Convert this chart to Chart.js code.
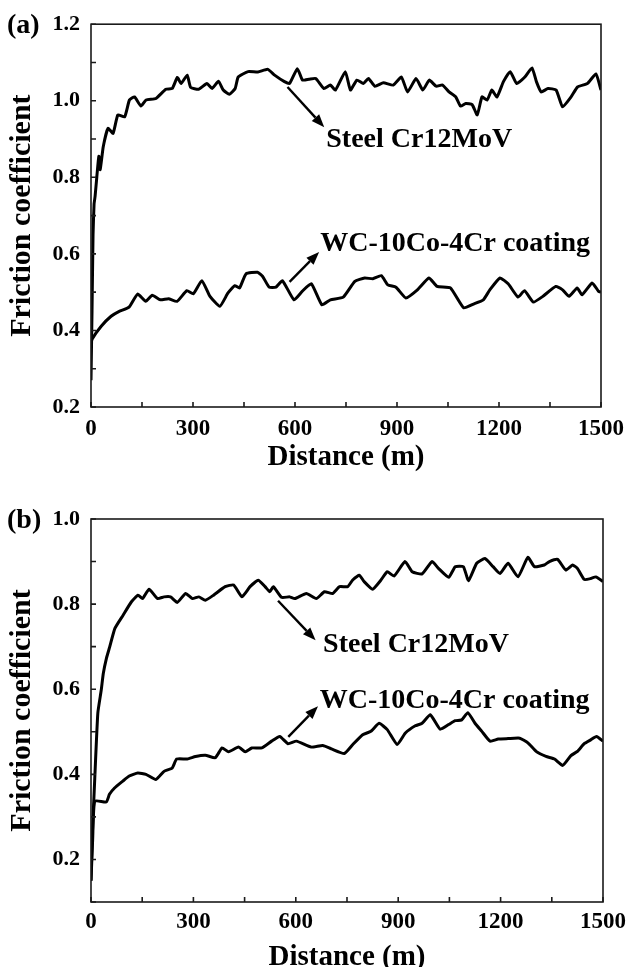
<!DOCTYPE html>
<html>
<head>
<meta charset="utf-8">
<script src="https://cdn.jsdelivr.net/npm/chart.js@4.4.0/dist/chart.umd.min.js"></script>
<style>
  html, body { margin: 0; padding: 0; background: #fff; overflow: hidden; }
  #wrapA { position: absolute; left: 0; top: 0; }
  #wrapB { position: absolute; left: 0; top: 485px; }
</style>
</head>
<body>
<div id="wrapA"><canvas id="chartA" width="632" height="485"></canvas></div>
<div id="wrapB"><canvas id="chartB" width="632" height="490"></canvas></div>
<script>
// ---- data ----
// panel (a)
const steelA_x = [0,3,6,9,12,17,23,27,36,50,65,79,99,113,128,147,162,191,220,239,254,265,283,293,317,341,356,375,389,407,424,433,462,491,520,540,569,584,607,622,641,661,685,704,719,748,763,782,801,816,835,860,889,913,931,956,976,995,1015,1034,1053,1073,1087,1102,1121,1136,1150,1165,1179,1194,1213,1233,1252,1276,1297,1310,1324,1344,1368,1387,1412,1431,1460,1485,1500];
const steelA_y = [0.27,0.45,0.65,0.73,0.75,0.80,0.855,0.82,0.88,0.928,0.915,0.963,0.958,1.002,1.01,0.986,1.002,1.006,1.03,1.032,1.061,1.045,1.067,1.035,1.03,1.045,1.032,1.051,1.028,1.017,1.032,1.062,1.076,1.075,1.082,1.067,1.05,1.045,1.084,1.054,1.056,1.058,1.032,1.041,1.028,1.076,1.028,1.054,1.045,1.058,1.038,1.047,1.041,1.062,1.023,1.058,1.028,1.054,1.038,1.041,1.023,1.01,0.986,0.993,0.99,0.963,1.01,1.002,1.028,1.01,1.05,1.076,1.045,1.062,1.086,1.05,1.023,1.032,1.028,0.984,1.01,1.036,1.045,1.07,1.028];
const wcA_x = [0,3,30,59,83,112,137,161,180,204,228,253,282,301,326,350,379,403,423,437,456,490,505,524,544,563,597,621,648,679,704,742,776,805,829,854,873,897,926,960,994,1018,1057,1096,1125,1154,1173,1203,1227,1256,1275,1301,1329,1367,1387,1406,1430,1444,1474,1493,1500];
const wcA_y = [0.365,0.377,0.411,0.437,0.45,0.461,0.495,0.476,0.492,0.48,0.483,0.476,0.504,0.496,0.53,0.489,0.463,0.498,0.517,0.511,0.548,0.552,0.541,0.513,0.513,0.53,0.48,0.502,0.522,0.467,0.48,0.487,0.528,0.537,0.535,0.543,0.519,0.513,0.485,0.506,0.537,0.515,0.511,0.459,0.469,0.48,0.506,0.537,0.522,0.487,0.504,0.474,0.489,0.515,0.506,0.489,0.511,0.493,0.524,0.502,0.5];

// panel (b)
const steelB_x = [0,4,11,20,30,36,45,55,70,94,118,138,151,170,195,214,233,253,277,297,316,335,359,393,418,442,466,490,510,524,534,558,582,597,631,660,684,708,728,752,766,786,800,825,849,868,888,920,941,970,999,1018,1048,1067,1091,1106,1130,1154,1178,1198,1222,1251,1280,1299,1328,1343,1367,1391,1411,1425,1445,1464,1479,1500];
const steelB_y = [0.15,0.26,0.39,0.544,0.598,0.637,0.672,0.70,0.743,0.774,0.805,0.821,0.813,0.835,0.813,0.817,0.817,0.804,0.825,0.813,0.817,0.809,0.821,0.841,0.845,0.817,0.841,0.856,0.841,0.829,0.841,0.816,0.817,0.813,0.825,0.813,0.829,0.825,0.841,0.841,0.856,0.868,0.853,0.835,0.856,0.876,0.866,0.90,0.876,0.871,0.90,0.884,0.863,0.888,0.888,0.855,0.896,0.907,0.888,0.872,0.896,0.864,0.91,0.888,0.892,0.90,0.905,0.88,0.892,0.884,0.858,0.86,0.864,0.853];
const wcB_x = [0,5,11,45,54,69,93,112,137,161,190,214,238,251,282,306,335,364,384,403,432,452,471,500,529,553,577,602,645,679,704,742,767,796,820,844,868,897,921,950,970,994,1023,1048,1067,1086,1104,1125,1145,1169,1193,1222,1256,1280,1304,1333,1358,1382,1406,1425,1445,1464,1481,1500];
const wcB_y = [0.15,0.25,0.337,0.335,0.353,0.368,0.384,0.396,0.403,0.40,0.388,0.407,0.415,0.436,0.436,0.442,0.445,0.439,0.462,0.453,0.464,0.453,0.462,0.462,0.478,0.489,0.472,0.478,0.464,0.468,0.46,0.449,0.47,0.493,0.501,0.52,0.505,0.47,0.497,0.514,0.52,0.54,0.506,0.517,0.526,0.528,0.545,0.52,0.501,0.478,0.483,0.484,0.485,0.474,0.454,0.442,0.436,0.421,0.444,0.454,0.472,0.481,0.489,0.478];

// annotation anchors, in data units (distance, friction)
const notesA = [
  { text: 'Steel Cr12MoV', at: [692, 0.879], from: [578, 1.036], to: [686, 0.931] },
  { text: 'WC-10Co-4Cr coating', at: [674, 0.608], from: [584, 0.527], to: [671, 0.605] }
];
const notesB = [
  { text: 'Steel Cr12MoV', at: [680, 0.688], from: [548, 0.808], to: [658, 0.715] },
  { text: 'WC-10Co-4Cr coating', at: [670, 0.555], from: [578, 0.488], to: [665, 0.56] }
];

const serif = '"Liberation Serif", "Times New Roman", serif';
const pts = (xs, ys) => xs.map((x, i) => ({ x, y: ys[i] }));

// frame, inward ticks, arrows and labels
const framePlugin = {
  id: 'frame',
  afterDraw(chart, args, opts) {
    const { ctx, chartArea: a, scales: { x, y } } = chart;
    ctx.save();
    ctx.strokeStyle = '#1a1a1a';
    ctx.lineWidth = 1.6;
    ctx.strokeRect(a.left, a.top, a.right - a.left, a.bottom - a.top);
    ctx.beginPath();
    x.ticks.forEach(t => {
      const px = x.getPixelForValue(t.value);
      ctx.moveTo(px, a.bottom); ctx.lineTo(px, a.bottom - 5);
    });
    y.ticks.forEach(t => {
      const py = y.getPixelForValue(t.value);
      ctx.moveTo(a.left, py); ctx.lineTo(a.left + 5, py);
    });
    ctx.stroke();

    ctx.fillStyle = '#000';
    ctx.strokeStyle = '#000';
    opts.notes.forEach(n => {
      const x1 = x.getPixelForValue(n.from[0]), y1 = y.getPixelForValue(n.from[1]);
      const x2 = x.getPixelForValue(n.to[0]), y2 = y.getPixelForValue(n.to[1]);
      const ang = Math.atan2(y2 - y1, x2 - x1);
      const hl = 13, hw = 5;
      ctx.lineWidth = 2.4;
      ctx.beginPath();
      ctx.moveTo(x1, y1);
      ctx.lineTo(x2 - hl * Math.cos(ang), y2 - hl * Math.sin(ang));
      ctx.stroke();
      ctx.beginPath();
      ctx.moveTo(x2, y2);
      ctx.lineTo(x2 - hl * Math.cos(ang) + hw * Math.sin(ang), y2 - hl * Math.sin(ang) - hw * Math.cos(ang));
      ctx.lineTo(x2 - hl * Math.cos(ang) - hw * Math.sin(ang), y2 - hl * Math.sin(ang) + hw * Math.cos(ang));
      ctx.closePath();
      ctx.fill();

      ctx.font = 'bold 28px ' + serif;
      ctx.textAlign = 'left';
      ctx.textBaseline = 'alphabetic';
      ctx.fillText(n.text, x.getPixelForValue(n.at[0]), y.getPixelForValue(n.at[1]));
    });

    ctx.font = 'bold 28px ' + serif;
    ctx.textAlign = 'left';
    ctx.textBaseline = 'middle';
    ctx.fillText(opts.tag, 7, a.top + 2);
    ctx.restore();
  }
};

function makeChart(id, cfg) {
  const ctx = document.getElementById(id).getContext('2d');
  return new Chart(ctx, {
    type: 'line',
    data: {
      datasets: [
        { data: pts(cfg.steelX, cfg.steelY), borderColor: '#000', borderWidth: 3, pointRadius: 0, tension: 0.15, fill: false },
        { data: pts(cfg.wcX, cfg.wcY), borderColor: '#000', borderWidth: 3, pointRadius: 0, tension: 0.15, fill: false }
      ]
    },
    options: {
      responsive: false,
      animation: false,
      devicePixelRatio: 1,
      layout: { padding: { top: cfg.padTop, right: 25, left: 0, bottom: 0 } },
      plugins: {
        legend: { display: false },
        tooltip: { enabled: false },
        frame: { notes: cfg.notes, tag: cfg.tag }
      },
      scales: {
        x: {
          type: 'linear',
          min: 0, max: 1500,
          grid: { display: false, drawTicks: false },
          border: { display: false },
          ticks: {
            stepSize: 150,
            autoSkip: false,
            maxRotation: 0,
            padding: cfg.xPad,
            color: '#000',
            font: { family: serif, size: 23, weight: 'bold' },
            callback: v => (v % 300 === 0 ? String(v) : '')
          },
          title: {
            display: true,
            text: 'Distance (m)',
            color: '#000',
            font: { family: serif, size: 29, weight: 'bold', lineHeight: 1 },
            padding: { top: 0, bottom: cfg.titlePad }
          },
          afterFit: s => { s.height = cfg.xHeight; }
        },
        y: {
          min: cfg.yMin, max: cfg.yMax,
          grid: { display: false, drawTicks: false },
          border: { display: false },
          ticks: {
            stepSize: 0.1,
            autoSkip: false,
            padding: 11,
            color: '#000',
            font: { family: serif, size: 22, weight: 'bold' },
            callback: v => (Math.round(v * 10) % 2 === 0 ? v.toFixed(1) : '')
          },
          title: {
            display: true,
            text: 'Friction coefficient',
            color: '#000',
            font: { family: serif, size: 30, weight: 'bold', lineHeight: 1 },
            padding: { top: 7, bottom: 0 }
          },
          afterFit: s => { s.width = 91; }
        }
      }
    },
    plugins: [framePlugin]
  });
}

makeChart('chartA', {
  steelX: steelA_x, steelY: steelA_y, wcX: wcA_x, wcY: wcA_y,
  yMin: 0.2, yMax: 1.2, padTop: 24, xHeight: 78, xPad: 8, titlePad: 13,
  notes: notesA, tag: '(a)'
});

makeChart('chartB', {
  steelX: steelB_x, steelY: steelB_y, wcX: wcB_x, wcY: wcB_y,
  yMin: 0.1, yMax: 1.0, padTop: 34, xHeight: 73, xPad: 6, titlePad: 3,
  notes: notesB, tag: '(b)'
});
</script>
</body>
</html>
